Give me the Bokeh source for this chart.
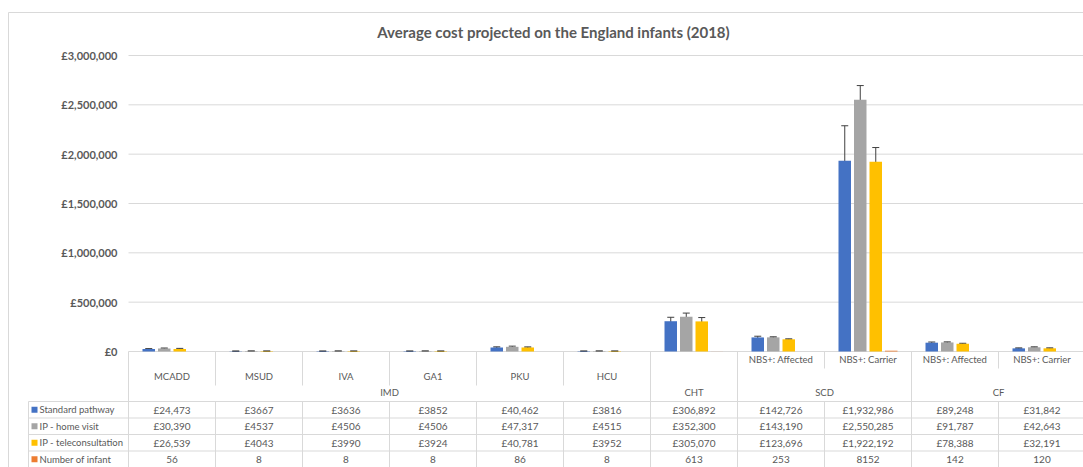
from bokeh.plotting import figure
from bokeh.models import Range1d, ColumnDataSource, Whisker, TeeHead
from bokeh.core.properties import value
from bokeh.embed import file_html
from bokeh.resources import INLINE

# ---------------- data ----------------
title = "Average cost projected on the England infants (2018)"
subcategories = ["MCADD", "MSUD", "IVA", "GA1", "PKU", "HCU", "",
                 "NBS+: Affected", "NBS+: Carrier", "NBS+: Affected", "NBS+: Carrier"]
groups = ["IMD", "IMD", "IMD", "IMD", "IMD", "IMD", "CHT", "SCD", "SCD", "CF", "CF"]
series_names = ["Standard pathway", "IP - home visit", "IP - teleconsultation", "Number of infant"]
standard = [24473, 3667, 3636, 3852, 40462, 3816, 306892, 142726, 1932986, 89248, 31842]
home_visit = [30390, 4537, 4506, 4506, 47317, 4515, 352300, 143190, 2550285, 91787, 42643]
teleconsult = [26539, 4043, 3990, 3924, 40781, 3952, 305070, 123696, 1922192, 78388, 32191]
infants = [56, 8, 8, 8, 86, 8, 613, 253, 8152, 142, 120]
err_standard = [5000, 1000, 1000, 1000, 7000, 1000, 40000, 12000, 355000, 7000, 5000]
err_home = [5000, 1000, 1000, 1000, 7000, 1000, 37000, 6000, 145000, 6000, 5000]
err_tele = [5000, 1000, 1000, 1000, 6000, 1000, 39000, 5000, 145000, 5000, 5000]
y_ticks = [0, 500000, 1000000, 1500000, 2000000, 2500000, 3000000]

colors = ["#4472C4", "#A5A5A5", "#FFC000", "#ED7D31"]
TXT = "#595959"
LINE = "#d9d9d9"
FONT = value("Lato")

# ---------------- layout helpers (page pixels -> data) ----------------
N = len(subcategories)
FIG_W, FIG_H = 1083, 467
X_LEFT = 128
W_PX = 87.0
Y_ZERO = 351
S = 3e6 / 296


def xd(px):
    return (px - X_LEFT) / W_PX


def yd(py):
    return (Y_ZERO - py) * S


p = figure(width=FIG_W, height=FIG_H,
           x_range=Range1d(xd(0), xd(FIG_W)), y_range=Range1d(yd(FIG_H), yd(0)),
           output_backend="svg", toolbar_location=None, min_border=0,
           x_axis_location=None, y_axis_location=None,
           outline_line_color=None, background_fill_color="white",
           border_fill_color="white")
p.xgrid.visible = False
p.ygrid.visible = False

# chart border (top and left visible)
p.segment(x0=[xd(8), xd(8)], y0=[yd(12), yd(12)], x1=[xd(FIG_W), xd(8)], y1=[yd(12), yd(FIG_H)],
          line_color=LINE, line_width=1)

# title
p.text(x=[xd(553)], y=[yd(31)], text=[title], text_align="center", text_baseline="middle",
       text_font=FONT, text_font_size="15px", text_font_style="bold", text_color=TXT)

# gridlines
x_end = xd(FIG_W)
p.segment(x0=[0] * len(y_ticks), y0=y_ticks, x1=[x_end] * len(y_ticks), y1=y_ticks,
          line_color=LINE, line_width=1, level="underlay")
# y tick labels
p.text(x=[xd(117)] * len(y_ticks), y=y_ticks, text=[f"£{t:,}" for t in y_ticks],
       text_align="right", text_baseline="middle", text_font=FONT,
       text_font_size="11px", text_font_style="bold", text_color=TXT)

# bars
series = [standard, home_visit, teleconsult, infants]
errs = [err_standard, err_home, err_tele]
BW = 12.5 / W_PX
OFF = 15.5 / W_PX
for k, vals in enumerate(series):
    xs = [i + 0.5 + (k - 1.5) * OFF for i in range(N)]
    p.vbar(x=xs, top=vals, bottom=0, width=BW, fill_color=colors[k], line_color=None)
    if k < 3:
        src = ColumnDataSource(dict(x=xs,
                                    upper=[v + e for v, e in zip(vals, errs[k])],
                                    lower=[v - e for v, e in zip(vals, errs[k])]))
        w = Whisker(base="x", upper="upper", lower="lower", source=src,
                    line_color="#404040", line_width=1,
                    upper_head=TeeHead(size=7, line_color="#404040", line_width=1),
                    lower_head=TeeHead(size=7, line_color="#404040", line_width=1))
        p.add_layout(w)

# ---------------- data table ----------------
HDR_BOT = 401
ROW_H = 16.5
row_tops = [HDR_BOT + r * ROW_H for r in range(5)]
TABLE_BOT = row_tops[-1]

x0s, y0s, x1s, y1s = [], [], [], []


def seg(a, b, c, d):
    x0s.append(a); y0s.append(b); x1s.append(c); y1s.append(d)


for t in row_tops:
    seg(xd(28), yd(t), x_end, yd(t))
seg(xd(28), yd(HDR_BOT), xd(28), yd(TABLE_BOT))
for b in range(N + 1):
    if b == 0 or b == N or groups[b - 1] != groups[b]:
        seg(b, yd(Y_ZERO), b, yd(TABLE_BOT))
    else:
        inner_end = 385 if groups[b] == "IMD" else 368
        seg(b, yd(Y_ZERO), b, yd(inner_end))
        seg(b, yd(HDR_BOT), b, yd(TABLE_BOT))
p.segment(x0=x0s, y0=y0s, x1=x1s, y1=y1s, line_color=LINE, line_width=1)

# header labels
sx, sy, st = [], [], []
for i, lab in enumerate(subcategories):
    if lab:
        sx.append(i + 0.5)
        sy.append(yd(376) if groups[i] == "IMD" else yd(359))
        st.append(lab)
start = 0
for i in range(1, N + 1):
    if i == N or groups[i] != groups[start]:
        sx.append((start + i) / 2)
        sy.append(yd(392))
        st.append(groups[start])
        start = i
p.text(x=sx, y=sy, text=st, text_align="center", text_baseline="middle",
       text_font=FONT, text_font_size="9.5px", text_color=TXT)


def fmt(v):
    return f"£{v:,}" if v >= 10000 else f"£{v}"


tx, ty, tt = [], [], []
for r, vals in enumerate(series):
    yc = yd(row_tops[r] + ROW_H / 2)
    for i, v in enumerate(vals):
        tx.append(i + 0.5)
        ty.append(yc)
        tt.append(fmt(v) if r < 3 else str(v))
p.text(x=tx, y=ty, text=tt, text_align="center", text_baseline="middle",
       text_font=FONT, text_font_size="10px", text_color=TXT)

ky = [yd(row_tops[r] + ROW_H / 2) for r in range(4)]
p.scatter(x=[xd(34)] * 4, y=ky, marker="square", size=6, fill_color=colors, line_color=None)
p.text(x=[xd(39)] * 4, y=ky, text=series_names, text_align="left", text_baseline="middle",
       text_font=FONT, text_font_size="9.5px", text_color=TXT)

open("out.html", "w").write(file_html(p, INLINE))
